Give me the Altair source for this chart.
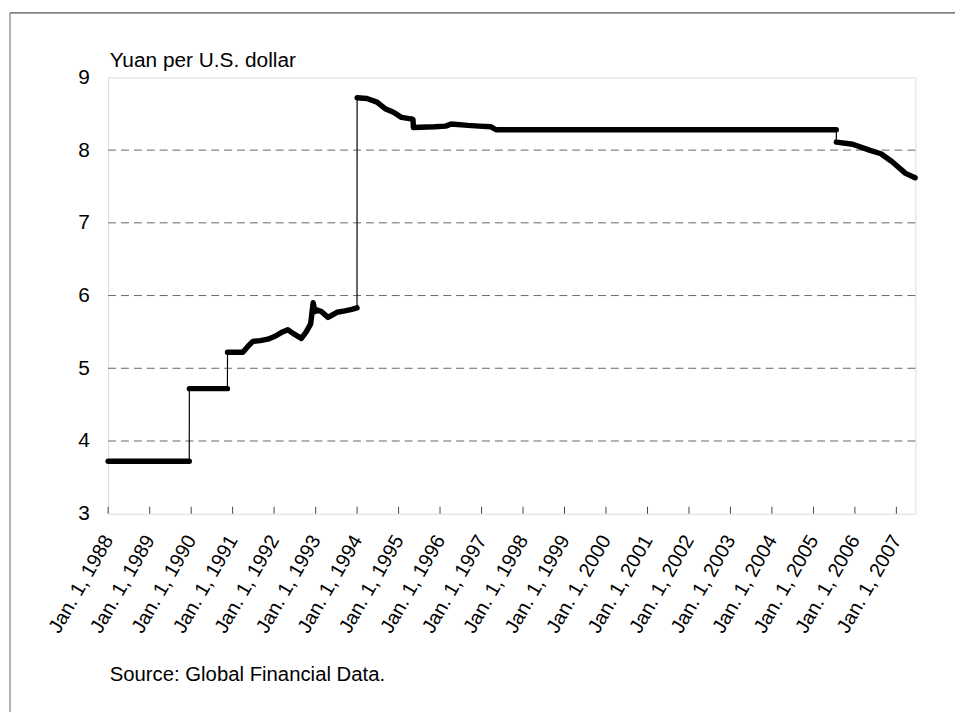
import altair as alt
import pandas as pd

# ---- data ----
dates = [
    "1988-01-01", "1989-12-15",
    "1989-12-16", "1990-11-16",
    "1990-11-17", "1991-04-01", "1991-05-15", "1991-06-28", "1991-09-01", "1991-11-07",
    "1992-01-10", "1992-03-15", "1992-05-01", "1992-06-15", "1992-08-28", "1992-10-10",
    "1992-11-18", "1992-12-10", "1992-12-25", "1993-01-15", "1993-02-20", "1993-04-20",
    "1993-07-08", "1993-09-15", "1993-11-15", "1993-12-31",
    "1994-01-01", "1994-03-28", "1994-06-25", "1994-09-05", "1994-11-17", "1995-01-26",
    "1995-04-22", "1995-05-08", "1995-05-12", "1995-11-15", "1996-02-20", "1996-04-08",
    "1996-09-01", "1996-12-10", "1997-03-25", "1997-05-08", "1998-01-01", "2005-07-21",
    "2005-07-22", "2005-12-13", "2006-05-08", "2006-08-18", "2006-11-25", "2007-03-23",
    "2007-06-15",
]
values = [
    3.72, 3.72,
    4.72, 4.72,
    5.22, 5.22, 5.30, 5.37, 5.38, 5.40,
    5.44, 5.50, 5.53, 5.48, 5.41, 5.50,
    5.61, 5.90, 5.78, 5.80, 5.78, 5.70,
    5.77, 5.79, 5.81, 5.83,
    8.72, 8.71, 8.66, 8.57, 8.52, 8.45,
    8.43, 8.42, 8.31, 8.32, 8.33, 8.36,
    8.34, 8.33, 8.32, 8.28, 8.28, 8.28,
    8.11, 8.08, 8.00, 7.95, 7.84, 7.68,
    7.62,
]
segments = (
    [1] * 2 + [2] * 2 + [3] * 22 + [4] * 18 + [5] * 7
)
years = list(range(1988, 2008))
grid_values = [4, 5, 6, 7, 8]
y_ticks = [3, 4, 5, 6, 7, 8, 9]

df = pd.DataFrame({"date": dates, "rate": values, "seg": segments})
df_years = pd.DataFrame({"date": [f"{y}-01-01" for y in years]})
df_grid = pd.DataFrame({"rate": grid_values})
df_one = pd.DataFrame({"a": [0]})

W, H = 814, 440
FONT = "Liberation Sans"

x_scale = alt.Scale(
    type="utc",
    domain=[alt.DateTime(year=1988, month=1, date=1, utc=True),
            alt.DateTime(year=2007, month=6, date=17, utc=True)],
)
y_scale = alt.Scale(domain=[3, 9], nice=False, zero=False)

x_axis = alt.Axis(
    values=[alt.DateTime(year=y, month=1, date=1, utc=True) for y in years],
    labelExpr="'Jan. 1, ' + utcFormat(datum.value, '%Y')",
    labelAngle=300, labelAlign="right", labelBaseline="middle",
    labelPadding=23, labelFontSize=20, labelColor="black", labelFont=FONT,
    labelOverlap=False, labelFlush=False, labelBound=False,
    ticks=False, domain=False, grid=False,
    title="Source: Global Financial Data.", titleX=1, titleY=168,
    titleAlign="left", titleBaseline="alphabetic", titleAnchor="start",
    titleFontSize=20.5, titleFontWeight="normal", titleColor="black", titleFont=FONT,
)
y_axis = alt.Axis(
    values=y_ticks, ticks=False, domain=False, grid=False,
    labelFontSize=21, labelColor="black", labelPadding=19, labelFont=FONT,
    title="Yuan per U.S. dollar", titleAngle=0, titleX=1, titleY=-11,
    titleAlign="left", titleBaseline="alphabetic", titleAnchor="start",
    titleFontSize=21, titleFontWeight="normal", titleColor="black", titleFont=FONT,
)

grid = alt.Chart(df_grid).mark_rule(color="#666", strokeWidth=1, strokeDash=[8, 5]).encode(
    y=alt.Y("rate:Q", scale=y_scale, axis=y_axis)
)

thin = alt.Chart(df).mark_line(color="black", strokeWidth=1.2).encode(
    x=alt.X("date:T", scale=x_scale, axis=x_axis),
    y=alt.Y("rate:Q", scale=y_scale, axis=y_axis),
)

thick = alt.Chart(df).mark_line(
    color="black", strokeWidth=5.5, strokeJoin="round", strokeCap="round"
).encode(
    x=alt.X("date:T", scale=x_scale, axis=x_axis),
    y=alt.Y("rate:Q", scale=y_scale, axis=y_axis),
    detail="seg:N",
)

xticks = alt.Chart(df_years).mark_rule(color="#444", strokeWidth=1).encode(
    x=alt.X("date:T", scale=x_scale, axis=x_axis),
    y=alt.value(H), y2=alt.value(H - 7),
)

top_border = alt.Chart(df_one).mark_rule(color="#222", strokeWidth=1).encode(
    x=alt.value(-99), x2=alt.value(860), y=alt.value(-65)
)
left_border = alt.Chart(df_one).mark_rule(color="#666", strokeWidth=1).encode(
    x=alt.value(-99), y=alt.value(-65), y2=alt.value(640)
)

chart = alt.layer(grid, thin, thick, xticks, top_border, left_border).properties(
    width=W, height=H,
    padding={"left": 101, "top": 67, "right": 40, "bottom": 198},
    autosize=alt.AutoSizeParams(type="none"),
).configure_view(
    stroke="#333", strokeWidth=1.2
).configure(font=FONT, background="white")

chart.save("out.html", embed_options={"renderer": "svg", "actions": False})
